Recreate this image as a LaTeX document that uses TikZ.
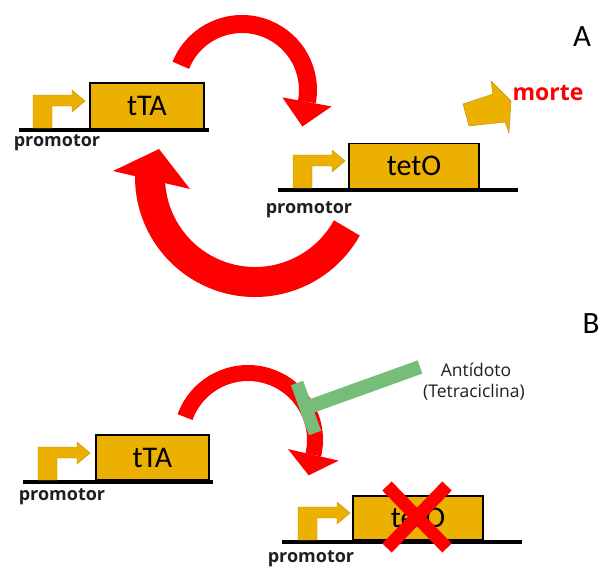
\documentclass[tikz,border=0pt]{standalone}
\usepackage{fontspec}
\setmainfont{Open Sans}
\newfontfamily\calfont{Carlito}
\usetikzlibrary{calc}
\definecolor{gold}{RGB}{236,176,0}
\definecolor{tgreen}{RGB}{117,189,120}
\definecolor{pred}{RGB}{255,0,0}
\tikzset{
  dna/.style={line width=4pt, draw=black},
  genebox/.style={draw=black, line width=1.8pt, fill=gold, inner sep=0pt,
    font=\calfont\fontsize{30}{30}\selectfont},
  promlabel/.style={font=\bfseries\fontsize{18}{18}\selectfont, text=black!88},
  panellabel/.style={font=\calfont\fontsize{31}{31}\selectfont},
  notelabel/.style={font=\fontsize{17.5}{17.5}\selectfont, text=black!88},
  promfill/.style={fill=gold, draw=gold!80!black, line width=0.4pt},
  promoter/.pic={\path[promfill] (0,-2) -- (0,-35) -- (39,-35) -- (39,-40) -- (52,-29)
      -- (39,-18) -- (39,-24) -- (19,-24) -- (19,-2) -- cycle;},
  inhibit/.style={draw=tgreen, line width=14pt},
  crossout/.style={draw=pred, line width=13pt},
  redband/.style={draw=pred, line width=#1},
}
% #1 centre, #2 radius, #3 thickness, #4 start, #5 end, #6 half head width, #7 head length
\newcommand\CurvedArrow[7]{%
  \pgfmathsetmacro\Ro{#2+#6}\pgfmathsetmacro\Ri{#2-#6}\pgfmathsetmacro\Ea{#5+90}%
  \draw[redband=#3pt] ($#1+(#4:#2)$) arc[start angle=#4, end angle=#5, radius=#2];
  \fill[pred] ($#1+(#5:\Ro)$) -- ($#1+(#5:\Ri)$) -- ($#1+(#5:#2)+(\Ea:#7)$) -- cycle;
}
\begin{document}
\begin{tikzpicture}[x=1pt,y=-1pt]
\fill[white] (0,0) rectangle (603,571);
\useasboundingbox (0,0) rectangle (603,571);

% ---------- Panel A ----------
\CurvedArrow{(242,90)}{66}{18}{202}{370.4}{25}{25}
\coordinate (lc) at (255,177);
\draw[redband=30pt] ($(lc)+(29:105)$) arc[start angle=29, end angle=182, radius=105];
\fill[pred] (113,171) -- (159,149) -- (190,189) -- cycle;

\coordinate (a1L) at (19,130); \coordinate (a1R) at (209,130);
\draw[dna] (a1L) -- (a1R);
\pic at (33,130) {promoter};
\node[genebox, minimum width=114pt, minimum height=46pt] (tta1) at (147,106) {tTA};
\node[promlabel] (p1) at (57,143) {promotor};

\coordinate (a2L) at (278,190); \coordinate (a2R) at (518,190);
\draw[dna] (a2L) -- (a2R);
\pic at (293,190) {promoter};
\node[genebox, minimum width=130pt, minimum height=45pt] (teto1) at (414,166) {tetO};
\node[promlabel] (p2) at (309,210) {promotor};

\path[promfill] (463,104) -- (493,94) -- (491,81) -- (511,101) -- (509,133) -- (505,122) -- (469,126) -- cycle;
\node[font=\bfseries\fontsize{23}{23}\selectfont, text=pred] (morte) at (548,93) {morte};
\node[panellabel] (labA) at (582,37) {A};

% ---------- Panel B ----------
\node[panellabel] (labB) at (591,324) {B};
\CurvedArrow{(248,440)}{67}{16}{200}{372.8}{26}{21}

\coordinate (tb) at (306,408);
\coordinate (tr) at (420,367);
\draw[inhibit] (tb) -- (tr);
\draw[inhibit, line width=13pt] (297,383) -- (315,433);
\node[notelabel] (anti) at (476,370) {Antídoto};
\node[notelabel] (tetra) at (474,392) {(Tetraciclina)};

\coordinate (b1L) at (23,482); \coordinate (b1R) at (213,482);
\draw[dna] (b1L) -- (b1R);
\pic at (38,482) {promoter};
\node[genebox, minimum width=113pt, minimum height=45pt] (tta2) at (152.5,457.5) {tTA};
\node[promlabel] (p3) at (62,497) {promotor};

\coordinate (b2L) at (282,542); \coordinate (b2R) at (522,542);
\draw[dna] (b2L) -- (b2R);
\pic at (298,542) {promoter};
\node[genebox, minimum width=130pt, minimum height=44pt] (teto2) at (418,518) {tetO};
\node[promlabel] (p4) at (311,559) {promotor};

\draw[crossout] (387,486) -- (447,548);
\draw[crossout] (447,486) -- (387,548);
\end{tikzpicture}
\end{document}
